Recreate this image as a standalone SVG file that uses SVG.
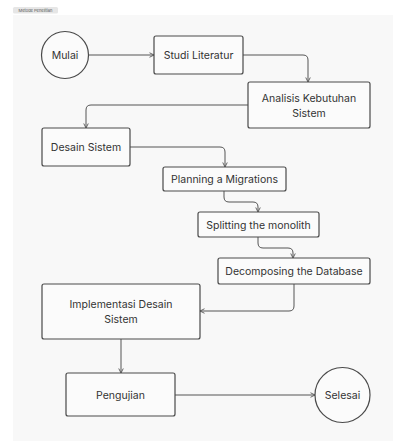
<svg xmlns="http://www.w3.org/2000/svg" width="393" height="441" viewBox="0 0 393 441">
<defs>
<style>
.n{fill:none;stroke:#555;stroke-width:1.2}
.bx{fill:#fbfbfb;stroke:#4a4a4a;stroke-width:1.2}
.t{font-family:Inter,"Liberation Sans",sans-serif;font-size:10.5px;fill:#333;text-anchor:middle;dominant-baseline:central}
.c{fill:none;stroke:#555;stroke-width:1;marker-end:url(#ah)}
</style>
<marker id="ah" viewBox="0 0 8 8" refX="7" refY="4" markerWidth="6" markerHeight="6" orient="auto" markerUnits="userSpaceOnUse">
<path d="M1,1 L7,4 L1,7" fill="none" stroke="#555" stroke-width="1.2"/>
</marker>
</defs>
<rect width="393" height="441" fill="#fff"/>
<rect x="13" y="15" width="380" height="426" fill="#f8f8f8"/>
<g id="title">
<rect x="13" y="7" width="45" height="6.5" rx="1.5" fill="#e6e6e6"/>
<text x="35.5" y="10.3" font-family="Inter,'Liberation Sans',sans-serif" font-size="4" fill="#555" text-anchor="middle" dominant-baseline="central">Metode Penelitian</text>
</g>
<g id="connectors">
<path class="c" d="M89,55 H154"/>
<path class="c" d="M243,55 H303 Q308,55 308,60 V82"/>
<path class="c" d="M248,105 H91 Q86,105 86,110 V128"/>
<path class="c" d="M130,147 H220 Q225,147 225,152 V167"/>
<path class="c" d="M224,191 V197 Q224,202 229,202 H253 Q258,202 258,207 V212"/>
<path class="c" d="M258,237 V243 Q258,248 263,248 H288 Q293,248 293,253 V258"/>
<path class="c" d="M294,284 V306 Q294,311 289,311 H200"/>
<path class="c" d="M121,339 V373"/>
<path class="c" d="M175,395 H315"/>
</g>
<g id="mulai">
<circle class="bx" cx="65" cy="55" r="23.5"/>
<text class="t" x="65" y="55">Mulai</text>
</g>
<g id="studi">
<rect class="bx" x="154" y="36" width="89" height="38" rx="2"/>
<text class="t" x="198.5" y="55">Studi Literatur</text>
</g>
<g id="analisis">
<rect class="bx" x="248" y="82" width="122" height="46" rx="2"/>
<text class="t" x="309" y="98.5">Analisis Kebutuhan</text>
<text class="t" x="309" y="113.5">Sistem</text>
</g>
<g id="desain">
<rect class="bx" x="42" y="128" width="88" height="38" rx="2"/>
<text class="t" x="86" y="147.5">Desain Sistem</text>
</g>
<g id="planning">
<rect class="bx" x="163" y="167" width="123" height="24" rx="2"/>
<text class="t" x="224.5" y="179">Planning a Migrations</text>
</g>
<g id="splitting">
<rect class="bx" x="198" y="212" width="121" height="25" rx="2"/>
<text class="t" x="258.5" y="225">Splitting the monolith</text>
</g>
<g id="decomposing">
<rect class="bx" x="218" y="258" width="152" height="26" rx="2"/>
<text class="t" x="294" y="271">Decomposing the Database</text>
</g>
<g id="implementasi">
<rect class="bx" x="42" y="284" width="158" height="55" rx="2"/>
<text class="t" x="121" y="304">Implementasi Desain</text>
<text class="t" x="121" y="319.5">Sistem</text>
</g>
<g id="pengujian">
<rect class="bx" x="66" y="373" width="109" height="43" rx="2"/>
<text class="t" x="120.5" y="395">Pengujian</text>
</g>
<g id="selesai">
<circle class="bx" cx="342.5" cy="395" r="27.5"/>
<text class="t" x="342.5" y="395">Selesai</text>
</g>
</svg>
